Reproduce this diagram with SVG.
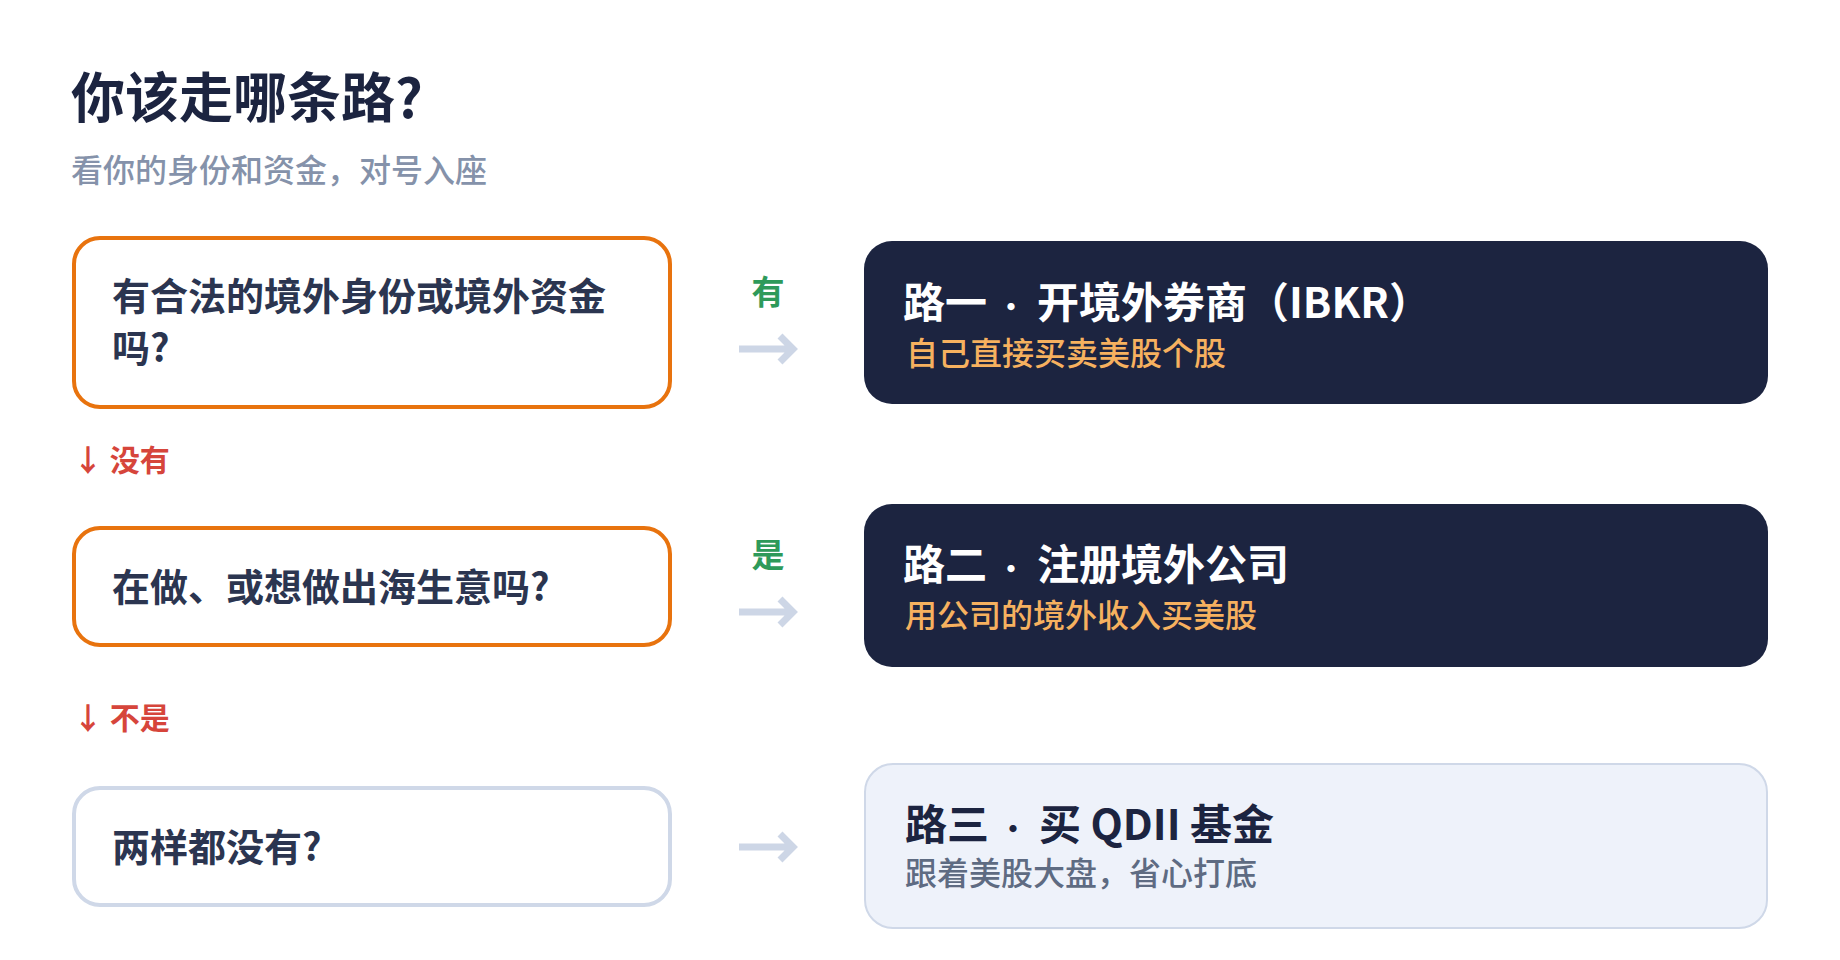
<svg xmlns="http://www.w3.org/2000/svg" width="1840" height="960" viewBox="0 0 1840 960">
<style>
  text { font-family: "Noto Sans CJK SC", "Noto Sans", sans-serif; }
  .h1 { font-size: 54px; font-weight: 700; fill: #1c2440; }
  .sub { font-size: 32px; font-weight: 500; fill: #8592aa; }
  .qbox { fill: #ffffff; stroke-width: 4; }
  .qbox.hot { stroke: #e8730e; }
  .qbox.cold { stroke: #cfd8e8; }
  .qtext { font-size: 38px; font-weight: 700; fill: #2b3550; }
  .no { font-size: 30px; font-weight: 700; fill: #d6453b; }
  .yes { font-size: 33px; font-weight: 700; fill: #2e9a5a; }
  .dark { fill: #1c2440; }
  .light { fill: #eef2fa; stroke: #cfd8e8; stroke-width: 2; }
  .rtitle { font-size: 42px; font-weight: 700; }
  .rtitle.w { fill: #ffffff; }
  .rtitle.d { fill: #1c2440; }
  .dot { font-weight: 700; font-size: 28px; }
  .rsub { font-size: 32px; font-weight: 500; }
  .rsub.o { fill: #f6b15f; }
  .rsub.g { fill: #5e6b82; }
  .arrow { fill: none; stroke: #cdd6e6; stroke-width: 7; stroke-linejoin: miter; }
</style>

<g id="header">
  <text class="h1" x="71" y="118">你该走哪条路?</text>
  <text class="sub" x="71" y="182">看你的身份和资金，对号入座</text>
</g>

<g id="q1">
  <rect class="qbox hot" x="74" y="238" width="596" height="169" rx="26"/>
  <text class="qtext" x="112" y="310">有合法的境外身份或境外资金</text>
  <text class="qtext" x="112" y="362">吗?</text>
</g>

<g id="label-no-1">
  <text class="no" x="73" y="471">↓ 没有</text>
</g>

<g id="q2">
  <rect class="qbox hot" x="74" y="528" width="596" height="117" rx="26"/>
  <text class="qtext" x="112" y="601">在做、或想做出海生意吗?</text>
</g>

<g id="label-no-2">
  <text class="no" x="73" y="729">↓ 不是</text>
</g>

<g id="q3">
  <rect class="qbox cold" x="74" y="788" width="596" height="117" rx="26"/>
  <text class="qtext" x="112" y="861">两样都没有?</text>
</g>

<g id="connectors">
  <text class="yes" x="768" y="304" text-anchor="middle">有</text>
  <path class="arrow" d="M739,349 H793 M780,336 L793,349 L780,362"/>
  <text class="yes" x="768" y="567" text-anchor="middle">是</text>
  <path class="arrow" d="M739,612 H793 M780,599 L793,612 L780,625"/>
  <path class="arrow" d="M739,847 H793 M780,834 L793,847 L780,860"/>
</g>

<g id="r1">
  <rect class="dark" x="864" y="241" width="904" height="163" rx="28"/>
  <text class="rtitle w" y="318"><tspan x="903">路一 </tspan><tspan class="dot" x="997">· </tspan><tspan x="1037">开境外券商（IBKR）</tspan></text>
  <text class="rsub o" x="906" y="365">自己直接买卖美股个股</text>
</g>

<g id="r2">
  <rect class="dark" x="864" y="504" width="904" height="163" rx="28"/>
  <text class="rtitle w" y="580"><tspan x="903">路二 </tspan><tspan class="dot" x="997">· </tspan><tspan x="1037">注册境外公司</tspan></text>
  <text class="rsub o" x="905" y="627">用公司的境外收入买美股</text>
</g>

<g id="r3">
  <rect class="light" x="865" y="764" width="902" height="164" rx="28"/>
  <text class="rtitle d" y="840"><tspan x="905">路三 </tspan><tspan class="dot" x="999">· </tspan><tspan x="1039">买 QDII 基金</tspan></text>
  <text class="rsub g" x="905" y="885">跟着美股大盘，省心打底</text>
</g>
</svg>
